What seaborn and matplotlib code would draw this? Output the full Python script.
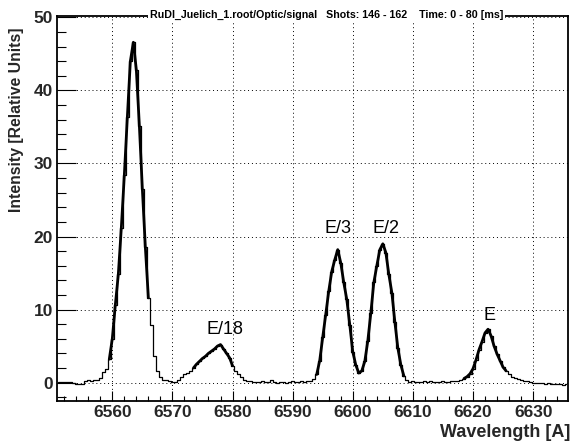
import numpy as np
import pandas as pd
import matplotlib
matplotlib.use("Agg")
import matplotlib.pyplot as plt
import seaborn as sns
from matplotlib.ticker import MultipleLocator

# ---------------- data ----------------
wl_start = 6551.0          # first bin centre [A]
bin_width = 0.5            # bin width [A]
intensity = [
    0.1, 0.05, 0.1, 0.05, 0.1, -0.05, -0.2, -0.15, -0.2, 0.2,        # 6551.0-6555.5
    0.3, 0.25, 0.3, 0.35, 0.6, 1.5, 1.9, 3.2, 6.0, 10.6,             # 6556.0-6560.5
    14.8, 21.2, 28.4, 36.3, 44.0, 46.6, 42.8, 35.2, 26.5, 18.5,      # 6561.0-6565.5
    11.6, 7.9, 3.6, 1.6, 0.7, 0.4, 0.3, 0.15, 0.05, 0.1,             # 6566.0-6570.5
    0.4, 0.8, 1.1, 1.35, 1.6, 2.0, 2.5, 2.9, 3.3, 3.6,               # 6571.0-6575.5
    4.0, 4.3, 4.6, 5.0, 5.2, 4.6, 4.0, 3.4, 2.3, 1.6,                # 6576.0-6580.5
    1.1, 0.7, 0.4, 0.2, 0.15, 0.1, 0.05, 0.1, 0.15, 0.05,            # 6581.0-6585.5
    0.1, 0.3, 0.1, 0.0, 0.05, 0.1, -0.05, 0.1, 0.2, 0.05,            # 6586.0-6590.5
    0.1, 0.15, 0.1, 0.15, 0.25, 0.5, 1.1, 3.0, 6.2, 9.3,             # 6591.0-6595.5
    12.5, 15.2, 16.8, 18.2, 16.4, 13.7, 11.4, 7.9, 4.2, 2.4,         # 6596.0-6600.5
    1.3, 1.6, 2.9, 5.7, 9.5, 13.7, 16.0, 18.2, 19.0, 17.8,           # 6601.0-6605.5
    14.8, 12.3, 8.3, 4.7, 2.4, 0.9, 0.3, 0.1, 0.15, 0.1,             # 6606.0-6610.5
    0.1, 0.05, 0.15, 0.1, 0.2, 0.1, 0.05, 0.1, 0.15, 0.1,            # 6611.0-6615.5
    0.1, 0.15, 0.2, 0.25, 0.4, 0.55, 0.8, 1.2, 1.9, 3.1,             # 6616.0-6620.5
    4.5, 5.6, 6.8, 7.3, 6.4, 5.0, 3.9, 3.0, 2.1, 1.6,                # 6621.0-6625.5
    1.2, 0.8, 0.6, 0.45, 0.35, 0.25, 0.15, 0.1, 0.0, -0.05,          # 6626.0-6630.5
    -0.1, -0.1, -0.15, -0.1, -0.2, -0.2, -0.25, -0.2, -0.3, -0.25,   # 6631.0-6635.5
]
wavelength = wl_start + bin_width * np.arange(len(intensity))

# wavelength ranges covered by the (thick) fitted curves
fit_lo = [6559.5, 6573.5, 6594.0, 6618.5]
fit_hi = [6566.0, 6580.0, 6608.5, 6625.5]

peak_labels = ["E/18", "E/3", "E/2", "E"]
peak_label_x = [6578.7, 6597.6, 6605.5, 6622.7]
peak_label_y = [7.3, 21.1, 21.1, 9.15]

title = "RuDI_Juelich_1.root/Optic/signal   Shots: 146 - 162    Time: 0 - 80 [ms]"
xlabel = "Wavelength [A]"
ylabel = "Intensity [Relative Units]"

# ---------------- style ----------------
sns.set_style("white")
plt.rcParams["font.family"] = ["Liberation Sans", "DejaVu Sans"]

W, H = 572, 448
fig = plt.figure(figsize=(W / 100, H / 100), dpi=100)
L, R, T, B = 57, 568, 16, 401
ax = fig.add_axes([L / W, 1 - B / H, (R - L) / W, (B - T) / H])

df = pd.DataFrame({"wavelength": wavelength, "intensity": intensity})
sns.lineplot(data=df, x="wavelength", y="intensity", drawstyle="steps-mid",
             color="black", linewidth=0.9, ax=ax, zorder=3)
for lo, hi in zip(fit_lo, fit_hi):
    sub = df[(df["wavelength"] >= lo) & (df["wavelength"] <= hi)]
    sns.lineplot(data=sub, x="wavelength", y="intensity", color="black",
                 linewidth=2.0, ax=ax, zorder=4)

for lab, lx, ly in zip(peak_labels, peak_label_x, peak_label_y):
    ax.text(lx, ly, lab, ha="center", va="center", fontsize=13, color="black")

ax.set_xlim(6550.8, 6635.8)
ax.set_ylim(-2.53, 50.2)
ax.xaxis.set_major_locator(MultipleLocator(10))
ax.xaxis.set_minor_locator(MultipleLocator(2))
ax.yaxis.set_major_locator(MultipleLocator(10))
ax.yaxis.set_minor_locator(MultipleLocator(2))

ax.grid(True, which="major", color="black", linestyle=(0, (1, 3)), linewidth=0.7)
ax.grid(False, which="minor")

ax.tick_params(axis="x", which="major", direction="in", length=7.5, width=0.8,
               labelsize=12.5, pad=3, color="black", bottom=True)
ax.tick_params(axis="x", which="minor", direction="in", length=3.9, width=0.8,
               color="black", bottom=True)
ax.tick_params(axis="y", which="major", direction="in", length=14, width=0.8,
               labelsize=12.5, pad=3, color="black", left=True)
ax.tick_params(axis="y", which="minor", direction="in", length=6.5, width=0.8,
               color="black", left=True)
plt.setp(ax.get_xticklabels(), fontweight="bold")
plt.setp(ax.get_yticklabels(), fontweight="bold")

for sp in ax.spines.values():
    sp.set_color("black")
    sp.set_linewidth(1.3)
    sp.set_visible(True)

ax.set_xlabel(xlabel, fontsize=13, fontweight="bold", loc="right")
ax.xaxis.label.set(ha="right", va="center")
ax.xaxis.set_label_coords((570 - L) / (R - L), (B - 432) / (B - T))

ax.set_ylabel(ylabel, fontsize=11.3, fontweight="bold", loc="top")
ax.yaxis.label.set(ha="right", va="center", rotation_mode="anchor")
ax.yaxis.set_label_coords((17 - L) / (R - L), (B - 28) / (B - T))

fig.text(326.5 / W, 1 - 15 / H, title, ha="center", va="center", fontsize=7.7,
         fontweight="bold", color="black",
         bbox=dict(facecolor="white", edgecolor="none", pad=1.5))

fig.savefig("out.png", dpi=100, facecolor="white")
